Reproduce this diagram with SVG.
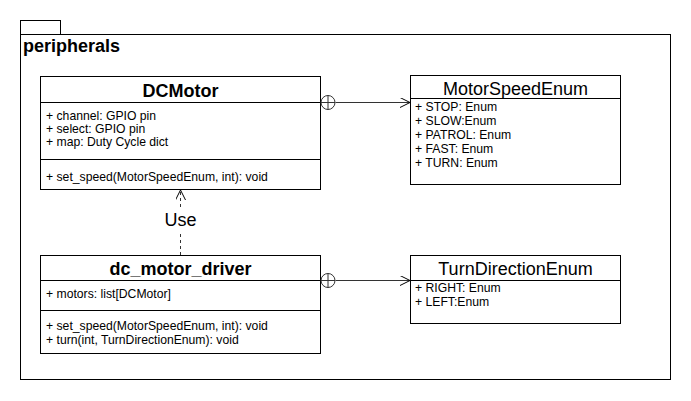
<svg xmlns="http://www.w3.org/2000/svg" width="691" height="401" viewBox="0 0 691 401">
<defs>
<style>
.box{fill:#fff;stroke:#000;stroke-width:1}
.ln{stroke:#000;stroke-width:1;fill:none}
.t{font-family:"Liberation Sans",Arial,sans-serif;font-size:12.2px;fill:#000}
.h{font-family:"Liberation Sans",Arial,sans-serif;font-size:18px;font-weight:bold;fill:#000}
.e{font-family:"Liberation Sans",Arial,sans-serif;font-size:18px;fill:#000}
.c{stroke:#333;stroke-width:1;fill:none}
</style>
<marker id="open" markerWidth="12" markerHeight="12" refX="10" refY="5" orient="auto" markerUnits="userSpaceOnUse">
<path d="M0,0 L10,5 L0,10" fill="none" stroke="#000" stroke-width="1"/>
</marker>
</defs>
<rect width="691" height="401" fill="#fff"/>
<g id="peripherals">
<rect class="box" x="20.5" y="20.5" width="40" height="14"/>
<rect class="box" x="20.5" y="34.5" width="650" height="345"/>
<text class="h" x="23" y="52">peripherals</text>
</g>
<g id="DCMotor">
<rect class="box" x="40.5" y="76.5" width="280" height="113"/>
<line class="ln" x1="40.5" y1="102.5" x2="320.5" y2="102.5"/>
<line class="ln" x1="40.5" y1="159.5" x2="320.5" y2="159.5"/>
<text class="h" x="180.5" y="97" text-anchor="middle">DCMotor</text>
<text class="t" x="46" y="120">+ channel: GPIO pin</text>
<text class="t" x="46" y="133">+ select: GPIO pin</text>
<text class="t" x="46" y="146">+ map: Duty Cycle dict</text>
<text class="t" x="46" y="181">+ set_speed(MotorSpeedEnum, int): void</text>
</g>
<g id="dc_motor_driver">
<rect class="box" x="40.5" y="255.5" width="280" height="98"/>
<line class="ln" x1="40.5" y1="280.5" x2="320.5" y2="280.5"/>
<line class="ln" x1="40.5" y1="310.5" x2="320.5" y2="310.5"/>
<text class="h" x="180.5" y="275" text-anchor="middle">dc_motor_driver</text>
<text class="t" x="46" y="298">+ motors: list[DCMotor]</text>
<text class="t" x="46" y="330">+ set_speed(MotorSpeedEnum, int): void</text>
<text class="t" x="46" y="344">+ turn(int, TurnDirectionEnum): void</text>
</g>
<g id="MotorSpeedEnum">
<rect class="box" x="410.5" y="75.5" width="210" height="109"/>
<line class="ln" x1="410.5" y1="98.5" x2="620.5" y2="98.5"/>
<text class="e" x="515.5" y="95" text-anchor="middle">MotorSpeedEnum</text>
<text class="t" x="415" y="111">+ STOP: Enum</text>
<text class="t" x="415" y="125">+ SLOW:Enum</text>
<text class="t" x="415" y="139">+ PATROL: Enum</text>
<text class="t" x="415" y="153">+ FAST: Enum</text>
<text class="t" x="415" y="167">+ TURN: Enum</text>
</g>
<g id="TurnDirectionEnum">
<rect class="box" x="410.5" y="255.5" width="210" height="68"/>
<line class="ln" x1="410.5" y1="280.5" x2="620.5" y2="280.5"/>
<text class="e" x="515.5" y="275" text-anchor="middle">TurnDirectionEnum</text>
<text class="t" x="415" y="292">+ RIGHT: Enum</text>
<text class="t" x="415" y="306">+ LEFT:Enum</text>
</g>
<g id="connectors">
<line class="c" x1="335.5" y1="102.5" x2="410" y2="102.5" marker-end="url(#open)"/>
<circle class="c" cx="328" cy="102.5" r="7"/>
<line class="c" x1="328" y1="95.5" x2="328" y2="109.5"/>
<line class="c" x1="321" y1="102.5" x2="335" y2="102.5"/>
<line class="c" x1="335.5" y1="280.5" x2="410" y2="280.5" marker-end="url(#open)"/>
<circle class="c" cx="328" cy="280.5" r="7"/>
<line class="c" x1="328" y1="273.5" x2="328" y2="287.5"/>
<line class="c" x1="321" y1="280.5" x2="335" y2="280.5"/>
<line class="c" x1="180.5" y1="255" x2="180.5" y2="190" stroke-dasharray="3,3" marker-end="url(#open)"/>
<rect x="161" y="209" width="39" height="22" fill="#fff"/>
<text class="e" x="180.5" y="226" text-anchor="middle">Use</text>
</g>
</svg>
